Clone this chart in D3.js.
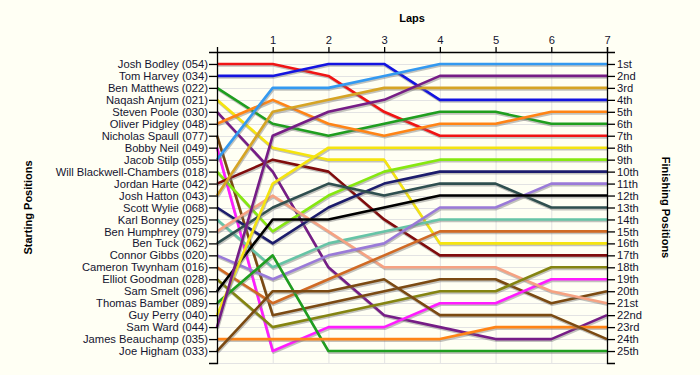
<!DOCTYPE html>
<html>
<head>
<meta charset="utf-8">
<script src="https://cdn.jsdelivr.net/npm/d3@7"></script>
<style>
body{margin:0;background:#fffff4;}
svg text{font-family:"Liberation Sans",Arial,sans-serif;}
</style>
</head>
<body>
<svg id="chart" width="700" height="375"></svg>
<script>
// riders in starting order
var riders = ["Josh Bodley (054)","Tom Harvey (034)","Ben Matthews (022)","Naqash Anjum (021)","Steven Poole (030)",
  "Oliver Pidgley (048)","Nicholas Spaull (077)","Bobby Neil (049)","Jacob Stilp (055)","Will Blackwell-Chambers (018)",
  "Jordan Harte (042)","Josh Hatton (043)","Scott Wylie (068)","Karl Bonney (025)","Ben Humphrey (079)",
  "Ben Tuck (062)","Connor Gibbs (020)","Cameron Twynham (016)","Elliot Goodman (028)","Sam Smelt (096)",
  "Thomas Bamber (089)","Guy Perry (040)","Sam Ward (044)","James Beauchamp (035)","Joe Higham (033)"]
var lapTicks = [1,2,3,4,5,6,7]
var finishLabels = ["1st","2nd","3rd","4th","5th","6th","7th","8th","9th","10th","11th","12th","13th","14th",
  "15th","16th","17th","18th","19th","20th","21st","22nd","23rd","24th","25th"]
// position of each rider at lap 0..7
var positions = [
  [1,1,2,5,7,7,7,7],
  [2,2,1,1,4,4,4,4],
  [3,6,7,6,5,5,6,6],
  [4,8,9,9,16,16,16,16],
  [5,10,18,22,23,24,24,22],
  [6,4,6,7,6,6,5,5],
  [7,22,21,20,19,19,21,20],
  [8,25,23,23,21,21,19,19],
  [9,3,3,2,1,1,1,1],
  [10,15,12,10,9,9,9,9],
  [11,9,10,14,17,17,17,17],
  [12,5,4,3,3,3,3,3],
  [13,16,13,11,10,10,10,10],
  [14,18,16,15,14,14,14,14],
  [15,12,15,18,18,18,20,21],
  [16,13,11,12,11,11,13,13],
  [17,19,17,16,13,13,11,11],
  [18,21,19,17,15,15,15,15],
  [19,23,22,21,20,20,18,18],
  [20,14,14,13,12,12,12,12],
  [21,17,25,25,25,25,25,25],
  [22,11,8,8,8,8,8,8],
  [23,7,5,4,2,2,2,2],
  [24,24,24,24,24,23,23,23],
  [25,20,20,19,22,22,22,24]
]
var colors = ["#f01414","#1414e0","#1f9e1f","#f5e40f","#761d86","#ff8416","#7b4a12","#ff1cff","#3399f0","#86e80f",
  "#800c0c","#d6a424","#1c1c6c","#66c4a6","#f6a282","#2f4f4f","#9a7ad8","#d06a24","#848410","#000000",
  "#1f9e1f","#f5e40f","#761d86","#ff8416","#7b4a12"]

var svg = d3.select("#chart"),
    pLeft = 217, pRight = 607, pTop = 52, pBottom = 363,
    x = d3.scaleLinear().domain([0,7]).range([pLeft,pRight]),
    y = d3.scaleLinear().domain([0,26]).range([pTop,pBottom])

svg.append("rect").attr("width",700).attr("height",375).attr("fill","#fffff4")

// grid
var grid = svg.append("g").attr("stroke","#e3e3e3").attr("stroke-width",1)
grid.selectAll(".gv").data(d3.range(0,8)).enter().append("line")
    .attr("x1",d=>x(d)+0.5).attr("x2",d=>x(d)+0.5).attr("y1",pTop).attr("y2",pBottom)
grid.selectAll(".gh").data(d3.range(1,27)).enter().append("line")
    .attr("y1",d=>Math.round(y(d))+0.5).attr("y2",d=>Math.round(y(d))+0.5).attr("x1",pLeft).attr("x2",pRight)

var line = d3.line().x(d=>x(d[0])).y(d=>y(d[1]))
var rows = positions.map(function(p,i){ return {name:riders[i],color:colors[i],pts:p.map((v,l)=>[l,v])} })

var g = svg.append("g").attr("fill","none").attr("stroke-linejoin","round")
var rg = g.selectAll(".rider").data(rows).enter().append("g").attr("class","rider")
rg.append("path").attr("d",d=>line(d.pts))
    .attr("transform","translate(0.8,1.6)")
    .attr("stroke","#777").attr("stroke-opacity",0.45).attr("stroke-width",2.6)
rg.append("path").attr("d",d=>line(d.pts))
    .attr("stroke",d=>d.color).attr("stroke-width",2.6)

// axes
var yLeft = d3.axisLeft(y).tickValues(d3.range(1,26)).tickFormat(d=>riders[d-1]).tickSize(8).tickPadding(1)
var yRight = d3.axisRight(y).tickValues(d3.range(1,26)).tickFormat(d=>finishLabels[d-1]).tickSize(8).tickPadding(2)
var xTop = d3.axisTop(x).tickValues(lapTicks).tickFormat(d3.format("d")).tickSize(5).tickPadding(3)

function styleAxis(a){
  a.selectAll("path,line").attr("stroke","#000").attr("stroke-width",1.3)
  a.selectAll("text").attr("fill","#141430").style("font-size","11.2px")
}
svg.append("g").attr("transform","translate("+pLeft+",0)").call(yLeft).call(styleAxis)
svg.append("g").attr("transform","translate("+pRight+",0)").call(yRight).call(styleAxis)
svg.append("g").attr("transform","translate(0,"+pTop+")").call(xTop).call(styleAxis)

// titles
svg.append("text").attr("x",(pLeft+pRight)/2).attr("y",22).attr("text-anchor","middle")
    .style("font-size","11px").style("font-weight","bold").text("Laps")
svg.append("text").attr("transform","translate(32,"+((pTop+pBottom)/2)+") rotate(-90)").attr("text-anchor","middle")
    .style("font-size","11px").style("font-weight","bold").text("Starting Positions")
svg.append("text").attr("transform","translate(662,"+((pTop+pBottom)/2)+") rotate(90)").attr("text-anchor","middle")
    .style("font-size","11px").style("font-weight","bold").text("Finishing Positions")
</script>
</body>
</html>
